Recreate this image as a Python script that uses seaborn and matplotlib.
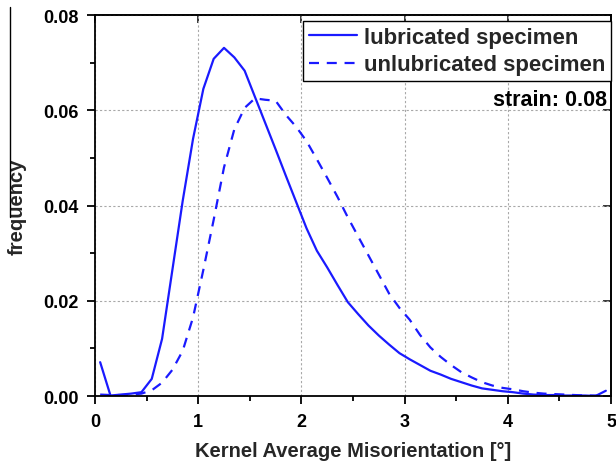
import matplotlib
matplotlib.use("Agg")
import matplotlib.pyplot as plt
from matplotlib.lines import Line2D
from matplotlib.ticker import MultipleLocator, FormatStrFormatter
import seaborn as sns
import pandas as pd

# Kernel Average Misorientation bins [deg]
kam = [0.05, 0.15, 0.25, 0.35, 0.45, 0.55, 0.65, 0.75, 0.85, 0.95,
       1.05, 1.15, 1.25, 1.35, 1.45, 1.55, 1.65, 1.75, 1.85, 1.95,
       2.05, 2.15, 2.25, 2.35, 2.45, 2.55, 2.65, 2.75, 2.85, 2.95,
       3.05, 3.15, 3.25, 3.35, 3.45, 3.55, 3.65, 3.75, 3.85, 3.95,
       4.05, 4.15, 4.25, 4.35, 4.45, 4.55, 4.65, 4.75, 4.85, 4.95]

# frequency, lubricated specimen
freq_lub = [0.0071, 0.0001, 0.0003, 0.0005, 0.0008, 0.0036, 0.0120, 0.0265, 0.0410, 0.0540,
            0.0645, 0.0708, 0.0731, 0.0711, 0.0683, 0.0628, 0.0573, 0.0518, 0.0462, 0.0407,
            0.0352, 0.0305, 0.0270, 0.0233, 0.0197, 0.0172, 0.0148, 0.0127, 0.0108, 0.0090,
            0.0077, 0.0065, 0.0053, 0.0045, 0.0036, 0.0029, 0.0022, 0.0016, 0.0013, 0.0010,
            0.0008, 0.0005, 0.0003, 0.0002, 0.0002, 0.0001, 0.0001, 0.0001, 0.0000, 0.0011]

# frequency, unlubricated specimen
freq_unlub = [0.0003, 0.0002, 0.0002, 0.0003, 0.0005, 0.0012, 0.0028, 0.0055, 0.0095, 0.0165,
              0.0265, 0.0370, 0.0480, 0.0560, 0.0605, 0.0625, 0.0622, 0.0620, 0.0590, 0.0565,
              0.0535, 0.0497, 0.0458, 0.0418, 0.0375, 0.0335, 0.0295, 0.0255, 0.0215, 0.0185,
              0.0160, 0.0128, 0.0102, 0.0082, 0.0065, 0.0050, 0.0039, 0.0029, 0.0022, 0.0017,
              0.0014, 0.0010, 0.0007, 0.0005, 0.0004, 0.0003, 0.0002, 0.0001, 0.0001, 0.0000]

x_ticks = [0, 1, 2, 3, 4, 5]
y_ticks = [0.00, 0.02, 0.04, 0.06, 0.08]

sns.set_theme(style="ticks")
plt.rcParams["font.family"] = ["Liberation Sans", "DejaVu Sans"]
plt.rcParams["font.weight"] = "bold"

df_lub = pd.DataFrame({"kam": kam, "freq": freq_lub})
df_unlub = pd.DataFrame({"kam": kam, "freq": freq_unlub})

fig = plt.figure(figsize=(6.16, 4.64), dpi=100)
ax = fig.add_axes([95 / 616, 1 - 397 / 464, (611 - 95) / 616, (397 - 16) / 464])

blue = "#1a1aff"
sns.lineplot(data=df_lub, x="kam", y="freq", ax=ax, color=blue, lw=1.6,
             estimator=None, sort=False, label="lubricated specimen")
sns.lineplot(data=df_unlub, x="kam", y="freq", ax=ax, color=blue, lw=1.6,
             estimator=None, sort=False, linestyle=(0, (4.5, 3.5)),
             label="unlubricated specimen")

ax.set_xlim(0, 5)
ax.set_ylim(0, 0.08)
ax.set_xticks(x_ticks)
ax.set_yticks(y_ticks)
ax.xaxis.set_minor_locator(MultipleLocator(0.5))
ax.yaxis.set_minor_locator(MultipleLocator(0.01))
ax.yaxis.set_major_formatter(FormatStrFormatter("%.2f"))

for s in ax.spines.values():
    s.set_linewidth(1.3)
    s.set_color("black")

ax.tick_params(axis="both", which="major", direction="out", length=6, width=1.3,
               labelsize=13, pad=6, color="black", labelcolor="black")
ax.tick_params(axis="both", which="minor", direction="out", length=3.5, width=1.3,
               color="black")
# mirrored major ticks on top and right, pointing inward
ax_top = ax.secondary_xaxis("top")
ax_top.set_xticks(x_ticks)
ax_top.tick_params(direction="in", length=6, width=1.3, labeltop=False)
ax_right = ax.secondary_yaxis("right")
ax_right.set_yticks(y_ticks)
ax_right.tick_params(direction="in", length=6, width=1.3, labelright=False)

ax.grid(True, which="major", color="#a8a8a8", linestyle=(0, (2, 2)), linewidth=0.8)

ax.set_xlabel("Kernel Average Misorientation [°]", fontsize=14.5, fontweight="bold",
              labelpad=8)
ax.set_ylabel("frequency", fontsize=14.5, fontweight="bold", labelpad=12)

leg = ax.legend(loc="upper right", bbox_to_anchor=(1.0, 0.984), borderaxespad=0,
                fontsize=16, frameon=True, fancybox=False, edgecolor="black",
                framealpha=1, handlelength=2.2, handletextpad=0.3,
                borderpad=0.25, labelspacing=0.3)
leg.get_frame().set_linewidth(1.0)
for t in leg.get_texts():
    t.set_fontweight("bold")

ax.text(0.992, 0.765, "strain: 0.08", transform=ax.transAxes, ha="right", va="baseline",
        fontsize=15.5, fontweight="bold", color="black")

# overline of the y label
fig.add_artist(Line2D([9.5 / 616, 9.5 / 616], [1 - 8 / 464, 1 - 218 / 464],
                      color="black", lw=1.0, transform=fig.transFigure))

fig.savefig("out.png", dpi=100)
